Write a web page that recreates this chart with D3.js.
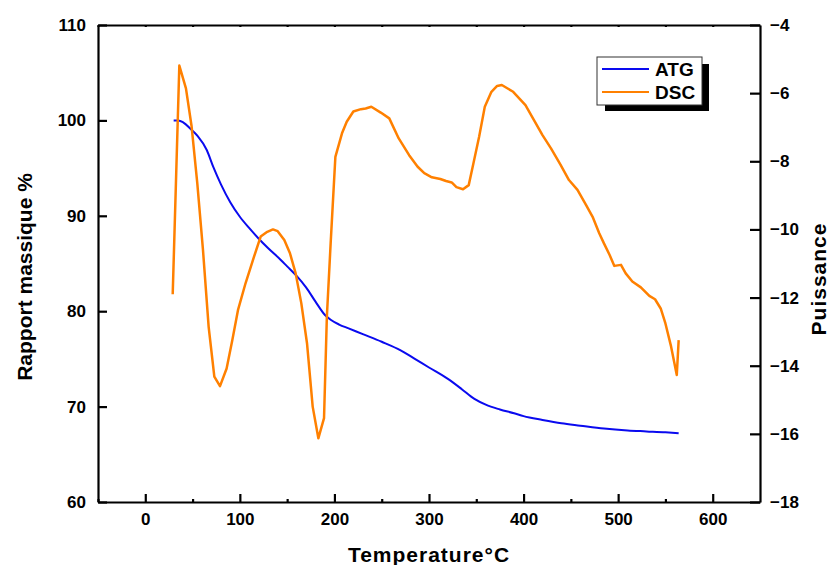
<!DOCTYPE html>
<html>
<head>
<meta charset="utf-8">
<script src="https://cdn.jsdelivr.net/npm/d3@7"></script>
<style>
  body { margin: 0; background: #fff; }
  svg { display: block; font-family: "Liberation Sans", Arial, sans-serif; font-weight: bold; }
</style>
</head>
<body>
<svg width="829" height="565"></svg>
<script>
// ATG (mass %), left axis
var atgT = [30, 35, 40, 48, 55, 65, 72, 80, 90, 100, 110, 120, 130, 143, 150, 160, 170, 180, 190, 196, 205, 215, 230, 250, 270, 285, 300, 320, 335, 348, 360, 375, 390, 400, 420, 440, 460, 485, 510, 530, 550, 564];
var atgV = [100, 100, 99.8, 99.1, 98.4, 96.9, 95.1, 93.3, 91.4, 89.9, 88.7, 87.6, 86.6, 85.4, 84.7, 83.7, 82.5, 81.0, 79.6, 79.1, 78.6, 78.2, 77.6, 76.8, 75.9, 75.0, 74.1, 72.9, 71.8, 70.8, 70.2, 69.7, 69.3, 69.0, 68.6, 68.25, 68.0, 67.7, 67.5, 67.4, 67.3, 67.2];

// DSC (puissance), right axis
var dscT = [29, 36, 43, 49, 55, 61, 67, 73, 79, 86, 92, 98, 106, 115, 122, 129, 135, 140, 147, 153, 159, 165, 171, 177, 183, 189, 192, 196, 201, 208, 213, 220, 228, 233, 239, 249, 258, 268, 279, 288, 295, 303, 312, 318, 324, 329, 336, 342, 347, 353, 359, 366, 372, 377, 389, 402, 411, 420, 429, 439, 448, 457, 466, 473, 480, 485, 491, 496, 503, 508, 515, 524, 533, 539, 545, 550, 556, 562, 564];
var dscV = [-11.9, -5.19, -5.86, -6.98, -8.65, -10.6, -12.86, -14.32, -14.6, -14.08, -13.25, -12.37, -11.58, -10.8, -10.21, -10.07, -10.0, -10.05, -10.31, -10.7, -11.29, -12.17, -13.34, -15.2, -16.13, -15.54, -12.56, -10.41, -7.87, -7.18, -6.84, -6.54, -6.47, -6.45, -6.4, -6.57, -6.74, -7.33, -7.82, -8.16, -8.35, -8.47, -8.52, -8.58, -8.62, -8.76, -8.82, -8.7, -8.06, -7.28, -6.4, -5.96, -5.79, -5.76, -5.96, -6.35, -6.79, -7.23, -7.62, -8.1, -8.55, -8.84, -9.28, -9.63, -10.11, -10.41, -10.75, -11.07, -11.04, -11.29, -11.53, -11.7, -11.95, -12.05, -12.32, -12.76, -13.44, -14.27, -13.25];

var xTicks = [0, 100, 200, 300, 400, 500, 600];
var xMinor = [-50, 50, 150, 250, 350, 450, 550];
var leftTicks = [60, 70, 80, 90, 100, 110];
var rightTicks = [-4, -6, -8, -10, -12, -14, -16, -18];

var svg = d3.select('svg');
var pL = 98, pR = 760, pT = 25, pB = 502;

var x = d3.scaleLinear().domain([-50, 650]).range([pL, pR]);
var yL = d3.scaleLinear().domain([60, 110]).range([pB, pT]);
var yR = d3.scaleLinear().domain([-18, -4]).range([pB, pT]);

function styleAxis(g) {
  g.attr('font-size', null).attr('font-family', null);
  g.select('.domain').attr('stroke', '#000').attr('stroke-width', 2.2);
  g.selectAll('.tick line').attr('stroke', '#000').attr('stroke-width', 2.2);
  g.selectAll('.tick text').attr('fill', '#000').style('font-size', '17px').style('font-weight', 'bold');
}

// bottom axis
svg.append('g')
  .attr('transform', 'translate(0,' + pB + ')')
  .call(d3.axisBottom(x).tickValues(xMinor).tickSize(-3).tickFormat(''))
  .call(styleAxis)
  .call(function (g) { g.select('.domain').remove(); });
svg.append('g')
  .attr('transform', 'translate(0,' + pB + ')')
  .call(d3.axisBottom(x).tickValues(xTicks).tickSizeInner(-8).tickSizeOuter(0).tickFormat(d3.format('d')))
  .call(styleAxis)
  .call(function (g) { g.selectAll('.tick text').attr('y', 11); });

// top frame with small ticks
svg.append('g')
  .attr('transform', 'translate(0,' + pT + ')')
  .call(d3.axisTop(x).tickValues(xTicks.concat(xMinor)).tickSizeInner(-2).tickSizeOuter(0).tickFormat(''))
  .call(styleAxis);

// left axis
svg.append('g')
  .attr('transform', 'translate(' + pL + ',0)')
  .call(d3.axisLeft(yL).tickValues(leftTicks).tickSizeInner(-9).tickSizeOuter(0).tickFormat(d3.format('d')))
  .call(styleAxis)
  .call(function (g) { g.selectAll('.tick text').attr('x', -12); });

// right axis
svg.append('g')
  .attr('transform', 'translate(' + pR + ',0)')
  .call(d3.axisRight(yR).tickValues(rightTicks).tickSizeInner(-10).tickSizeOuter(0).tickFormat(d3.format('d')))
  .call(styleAxis)
  .call(function (g) { g.selectAll('.tick text').attr('x', 10); });

// curves
var atg = atgT.map(function (t, i) { return [t, atgV[i]]; });
var dsc = dscT.map(function (t, i) { return [t, dscV[i]]; });

svg.append('path')
  .datum(atg)
  .attr('fill', 'none')
  .attr('stroke', '#0a0aef')
  .attr('stroke-width', 2)
  .attr('d', d3.line().x(function (d) { return x(d[0]); }).y(function (d) { return yL(d[1]); }).curve(d3.curveMonotoneX));

svg.append('path')
  .datum(dsc)
  .attr('fill', 'none')
  .attr('stroke', '#ff8000')
  .attr('stroke-width', 2.5)
  .attr('stroke-linejoin', 'round')
  .attr('d', d3.line().x(function (d) { return x(d[0]); }).y(function (d) { return yR(d[1]); }));

// axis titles
svg.append('text')
  .attr('transform', 'translate(32,277) rotate(-90)')
  .attr('text-anchor', 'middle')
  .style('font-size', '21px')
  .text('Rapport massique %');
svg.append('text')
  .attr('transform', 'translate(826,279) rotate(-90)')
  .attr('text-anchor', 'middle')
  .style('font-size', '21px')
  .style('letter-spacing', '1px')
  .text('Puissance');
svg.append('text')
  .attr('x', 429)
  .attr('y', 562)
  .attr('text-anchor', 'middle')
  .style('font-size', '21px')
  .style('letter-spacing', '1px')
  .text('Temperature°C');

// legend
var leg = svg.append('g');
leg.append('rect').attr('x', 605).attr('y', 64).attr('width', 104).attr('height', 47).attr('fill', '#000');
leg.append('rect').attr('x', 597).attr('y', 57).attr('width', 105).attr('height', 48)
  .attr('fill', '#fff').attr('stroke', '#333').attr('stroke-width', 1);
var items = [['ATG', '#0a0aef'], ['DSC', '#ff8000']];
items.forEach(function (it, i) {
  var yy = 69 + i * 23;
  leg.append('line').attr('x1', 602).attr('x2', 649).attr('y1', yy).attr('y2', yy)
    .attr('stroke', it[1]).attr('stroke-width', 2);
  leg.append('text').attr('x', 655).attr('y', yy + 7).style('font-size', '19px').text(it[0]);
});
</script>
</body>
</html>
